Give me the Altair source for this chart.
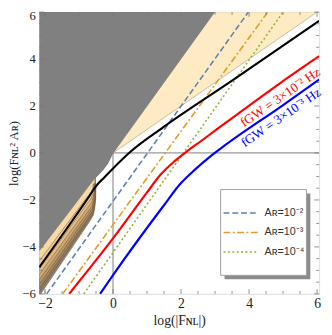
import altair as alt
import pandas as pd

W, H = 287, 289
XD = [-2.17, 6.06]
YD = [-6, 6]

# ---- data ----
gray_x = [-2.17, -0.55, -0.45, -0.29, -0.14, 0.0, 3.0]
gray_y = [-4.20, -1.12, -0.98, -0.74, -0.45, -0.03, 6.0]

orange_x = [0.0, 6.06]
orange_y = [0.0, 6.06]

# fan contours (outer -> inner): lower boundary of each band
fan_x = [
    [-2.17, -0.67, -0.58, -0.54, -0.51, -0.50],
    [-2.17, -0.68, -0.59, -0.55, -0.52, -0.51],
    [-2.17, -0.69, -0.60, -0.56, -0.53, -0.52],
    [-2.17, -0.70, -0.61, -0.57, -0.54, -0.53],
    [-2.17, -0.71, -0.62, -0.58, -0.55, -0.54],
    [-2.17, -0.72, -0.63, -0.59, -0.56, -0.55],
    [-2.17, -0.74, -0.65, -0.61, -0.58, -0.56],
    [-2.17, -0.76, -0.67, -0.63, -0.60, -0.58],
]
fan_y = [
    [-6.10, -2.88, -2.65, -2.40, -2.00, -1.30],
    [-5.95, -2.79, -2.57, -2.32, -1.95, -1.30],
    [-5.78, -2.69, -2.48, -2.24, -1.90, -1.30],
    [-5.60, -2.57, -2.37, -2.14, -1.85, -1.30],
    [-5.40, -2.44, -2.25, -2.04, -1.78, -1.30],
    [-5.18, -2.28, -2.11, -1.92, -1.70, -1.30],
    [-4.95, -2.12, -1.96, -1.80, -1.60, -1.30],
    [-4.60, -1.87, -1.78, -1.66, -1.50, -1.30],
]
fan_colors = ["#5e5444", "#8b7352", "#ad8c60", "#c6a06c", "#d9b37c", "#e8c48b", "#f3d299", "#fcdea9"]

black_x = [-2.17, -1.07, -0.75, -0.52, -0.25, 0.0, 0.52, 1.46, 3.5, 6.06]
black_y = [-4.87, -2.62, -1.95, -1.45, -1.03, -0.66, 0.06, 1.08, 3.08, 5.62]

red_x = [-1.29, 0.0, 1.0, 1.4, 1.8, 2.2, 2.6, 3.0, 4.94, 6.06]
red_y = [-6.0, -3.64, -1.68, -0.92, -0.36, 0.10, 0.52, 0.95, 3.0, 4.12]

blue_x = [-0.38, 0.0, 1.46, 2.0, 2.4, 2.8, 3.2, 4.97, 6.06]
blue_y = [-6.0, -5.2, -2.3, -1.28, -0.72, -0.22, 0.23, 2.01, 3.13]

ar_labels = ["Aʀ=10⁻²", "Aʀ=10⁻³", "Aʀ=10⁻⁴"]
ar_x = [[-1.95, 3.98], [-1.48, 4.55], [-0.86, 5.0]]
ar_y = [[-6.0, 6.0], [-6.0, 6.0], [-6.0, 6.0]]
ar_colors = ["#5e81b5", "#e19c24", "#8fb032"]
ar_dash = [[6, 3], [7, 2.5, 2, 2.5], [2, 2.5]]

x_ticks = [-2, 0, 2, 4, 6]
y_ticks = [-6, -4, -2, 0, 2, 4, 6]
x_minor = [-2.0, -1.5, -1.0, -0.5, 0.5, 1.0, 1.5, 2.5, 3.0, 3.5, 4.5, 5.0, 5.5]
y_minor = [-5.5, -5, -4.5, -3.5, -3, -2.5, -1.5, -1, -0.5, 0.5, 1, 1.5, 2.5, 3, 3.5, 4.5, 5, 5.5]

label_text = ["fGW = 3×10⁻² Hz", "fGW = 3×10⁻³ Hz"]
label_x = [4.92, 4.94]
label_y = [2.36, 1.50]
label_col = ["#ff0000", "#0000ff"]

SERIF = "Liberation Serif"

xs = alt.Scale(domain=XD, nice=False, zero=False)
ys = alt.Scale(domain=YD, nice=False, zero=False)

x_axis = alt.Axis(values=x_ticks, title="log(|Fɴʟ|)", grid=False, ticks=False, domain=False,
                  labelFont=SERIF, labelFontSize=14, labelColor="#222", labelPadding=3,
                  titleFont=SERIF, titleFontSize=14, titleFontWeight="normal", titleColor="#222",
                  titlePadding=3, format="d")
y_axis = alt.Axis(values=y_ticks, title="log(Fɴʟ² Aʀ)", grid=False, ticks=False, domain=False,
                  labelFont=SERIF, labelFontSize=13, labelColor="#222", labelPadding=4,
                  labelOffset={"condition": {"test": "datum.value == 6", "value": 4}, "value": 0},
                  titleFont=SERIF, titleFontSize=13, titleFontWeight="normal", titleColor="#222",
                  titlePadding=1, format="d")

def X(f="x"):
    return alt.X(f + ":Q", scale=xs, axis=x_axis)

def Y(f="y"):
    return alt.Y(f + ":Q", scale=ys, axis=y_axis)

layers = []

# reference lines x=0 and y=0
layers.append(alt.Chart(pd.DataFrame({"x": [0, 0], "y": [YD[0], 0]})).mark_line(color="#9a9a9a", strokeWidth=1.3, clip=True)
              .encode(x=X(), y=Y()))
layers.append(alt.Chart(pd.DataFrame({"x": [0, XD[1]], "y": [0, 0]})).mark_line(color="#9a9a9a", strokeWidth=1.3, clip=True)
              .encode(x=X(), y=Y()))

# orange region x>0
layers.append(alt.Chart(pd.DataFrame({"x": orange_x, "y": orange_y, "y2": [6, 6]}))
              .mark_area(color="#fde2aa", clip=True, line={"color": "#b9a07c", "strokeWidth": 0.7})
              .encode(x=X(), y=Y(), y2="y2:Q"))

# fan
for fx, fy, col in zip(fan_x, fan_y, fan_colors):
    d = pd.DataFrame({"x": fx, "y": fy, "y2": [6] * len(fx)})
    layers.append(alt.Chart(d).mark_area(color=col, clip=True,
                                         line={"color": "#6b5236", "strokeWidth": 0.5})
                  .encode(x=X(), y=Y(), y2="y2:Q"))

# gray region
layers.append(alt.Chart(pd.DataFrame({"x": gray_x, "y": gray_y, "y2": [6] * len(gray_x)}))
              .mark_area(color="#808080", clip=True)
              .encode(x=X(), y=Y(), y2="y2:Q"))

# A_R lines
for lab, xx, yy, col, dash in zip(ar_labels, ar_x, ar_y, ar_colors, ar_dash):
    layers.append(alt.Chart(pd.DataFrame({"x": xx, "y": yy})).mark_line(
        strokeWidth=1.6, clip=True, color=col, strokeDash=dash).encode(x=X(), y=Y()))

# black, red, blue curves
for cx, cy, col in [(black_x, black_y, "#000000"), (red_x, red_y, "#ff0000"), (blue_x, blue_y, "#0000ff")]:
    layers.append(alt.Chart(pd.DataFrame({"x": cx, "y": cy})).mark_line(color=col, strokeWidth=2.2, clip=True,
                                                                        interpolate="monotone")
                  .encode(x=X(), y=Y()))

# rotated labels
layers.append(alt.Chart(pd.DataFrame({"x": label_x, "y": label_y, "t": label_text, "c": label_col}))
              .mark_text(font=SERIF, fontSize=13.5, angle=325.4, align="center", baseline="middle")
              .encode(x=X(), y=Y(), text="t:N", color=alt.Color("c:N", scale=None)))

# inward ticks
tc = "#777"
for vals, ln in [(x_ticks, 5), (x_minor, 3)]:
    d = pd.DataFrame({"x": vals})
    layers.append(alt.Chart(d).mark_rule(color=tc, strokeWidth=0.8).encode(x=X(), y=alt.value(H), y2=alt.value(H - ln)))
    layers.append(alt.Chart(d).mark_rule(color=tc, strokeWidth=0.8).encode(x=X(), y=alt.value(0), y2=alt.value(ln)))
for vals, ln in [(y_ticks, 5), (y_minor, 3)]:
    d = pd.DataFrame({"y": vals})
    layers.append(alt.Chart(d).mark_rule(color=tc, strokeWidth=0.8).encode(y=Y(), x=alt.value(0), x2=alt.value(ln)))
    layers.append(alt.Chart(d).mark_rule(color=tc, strokeWidth=0.8).encode(y=Y(), x=alt.value(W), x2=alt.value(W - ln)))

# legend box with shadow, entries
box = pd.DataFrame({"a": [0]})
layers.append(alt.Chart(box).mark_rect(color="#8c8c8c").encode(
    x=alt.value(190), x2=alt.value(278), y=alt.value(186), y2=alt.value(274)))
layers.append(alt.Chart(box).mark_rect(fill="white", stroke="#a0a0a0", strokeWidth=1).encode(
    x=alt.value(186), x2=alt.value(274), y=alt.value(182), y2=alt.value(270)))
leg_rows = [206, 226, 246]
for lab, col, dash, ry in zip(ar_labels, ar_colors, ar_dash, leg_rows):
    layers.append(alt.Chart(box).mark_rule(color=col, strokeDash=dash, strokeWidth=1.6).encode(
        x=alt.value(189), x2=alt.value(224), y=alt.value(ry)))
    layers.append(alt.Chart(box).mark_text(text=lab, font="Liberation Sans", fontSize=11, color="#333",
                                           align="left", baseline="middle").encode(
        x=alt.value(231), y=alt.value(ry)))

chart = alt.layer(*layers).properties(
    width=W, height=H, autosize="none",
    padding={"left": 32, "top": 0, "right": 5, "bottom": 38},
).configure_view(stroke="#555", strokeWidth=1).configure(background="white")

chart.save("out.html", embed_options={"renderer": "svg", "actions": False})
